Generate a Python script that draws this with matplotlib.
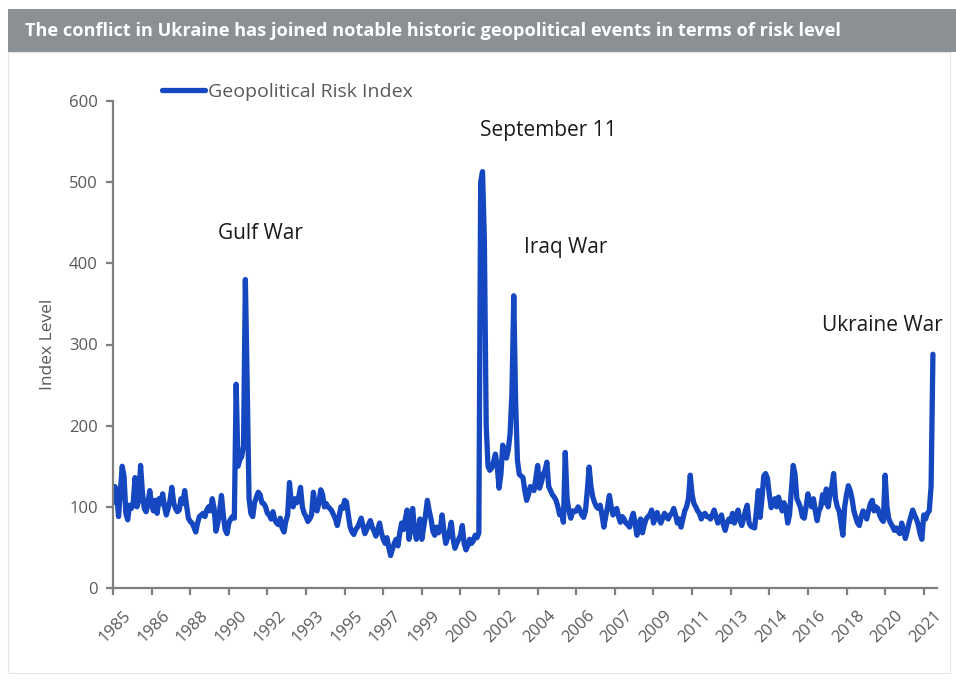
import numpy as np
import matplotlib
matplotlib.use("Agg")
import matplotlib.pyplot as plt
from matplotlib.patches import Rectangle
import matplotlib.transforms as mtransforms

plt.rcParams['font.family'] = ['Open Sans', 'DejaVu Sans']

title = "The conflict in Ukraine has joined notable historic geopolitical events in terms of risk level"
series_name = "Geopolitical Risk Index"
y_label = "Index Level"
start_year = 1985

# Monthly Geopolitical Risk Index, Jan 1985 - Mar 2022
gpr_values = [
    105, 125, 118, 88, 118, 150, 138, 92, 84, 102, 98, 105,      # 1985
    136, 100, 108, 151, 118, 98, 94, 104, 120, 102, 95, 108,     # 1986
    92, 110, 104, 116, 100, 90, 98, 108, 124, 105, 98, 94,       # 1987
    96, 110, 104, 120, 102, 86, 82, 80, 75, 69, 80, 88,          # 1988
    90, 92, 88, 96, 100, 95, 110, 98, 70, 80, 95, 114,           # 1989
    90, 72, 67, 80, 85, 88, 86, 251, 150, 158, 162, 175,         # 1990
    380, 250, 110, 92, 88, 105, 112, 118, 115, 105, 104, 100,    # 1991
    92, 90, 85, 94, 84, 80, 78, 86, 74, 69, 82, 90,              # 1992
    130, 105, 100, 110, 105, 112, 124, 100, 92, 88, 82, 85,      # 1993
    90, 118, 100, 95, 105, 121, 115, 100, 104, 100, 98, 95,      # 1994
    90, 85, 77, 88, 100, 98, 108, 106, 90, 75, 69, 66,           # 1995
    72, 75, 80, 86, 76, 67, 72, 78, 83, 75, 70, 64,              # 1996
    72, 80, 68, 60, 55, 62, 50, 40, 48, 55, 60, 52,              # 1997
    68, 80, 72, 85, 96, 60, 75, 98, 72, 60, 70, 85,              # 1998
    60, 75, 90, 108, 95, 85, 70, 65, 75, 68, 72, 90,             # 1999
    70, 55, 62, 70, 81, 60, 49, 55, 60, 65, 77, 55,              # 2000
    47, 52, 60, 55, 58, 65, 62, 68, 500, 513, 430, 200,          # 2001
    150, 145, 148, 155, 165, 150, 123, 140, 176, 165, 160, 170,  # 2002
    190, 240, 360, 230, 157, 140, 138, 136, 120, 108, 115, 125,  # 2003
    122, 120, 135, 151, 123, 130, 140, 145, 155, 125, 120, 115,  # 2004
    112, 108, 100, 90, 95, 81, 167, 110, 95, 86, 95, 94,         # 2005
    95, 100, 96, 90, 87, 95, 120, 149, 125, 112, 105, 100,       # 2006
    98, 102, 90, 75, 88, 100, 114, 100, 90, 95, 98, 88,          # 2007
    81, 88, 85, 80, 78, 75, 85, 92, 80, 65, 78, 85,              # 2008
    68, 78, 85, 88, 90, 96, 80, 86, 93, 85, 80, 86,              # 2009
    92, 88, 85, 90, 92, 98, 90, 80, 85, 75, 85, 95,              # 2010
    100, 110, 139, 115, 104, 100, 95, 92, 85, 90, 92, 88,        # 2011
    88, 85, 90, 96, 88, 80, 84, 90, 78, 71, 80, 85,              # 2012
    82, 92, 80, 88, 96, 84, 77, 85, 95, 102, 80, 76,             # 2013
    75, 74, 95, 120, 87, 110, 138, 141, 135, 115, 99, 105,       # 2014
    110, 100, 112, 104, 95, 105, 98, 80, 90, 120, 151, 140,      # 2015
    110, 105, 99, 88, 86, 100, 116, 105, 100, 110, 95, 83,       # 2016
    95, 100, 115, 105, 122, 100, 115, 125, 141, 110, 100, 95,    # 2017
    80, 65, 100, 115, 126, 120, 110, 95, 87, 80, 77, 88,         # 2018
    95, 90, 85, 95, 104, 108, 95, 100, 98, 90, 85, 82,           # 2019
    139, 100, 85, 80, 76, 71, 74, 70, 67, 80, 72, 61,            # 2020
    70, 80, 88, 96, 90, 85, 78, 67, 60, 90, 85, 92,              # 2021
    95, 125, 288,                                                # 2022
]

tick_labels = ['1985', '1986', '1988', '1990', '1992', '1993', '1995', '1997',
               '1999', '2000', '2002', '2004', '2006', '2007', '2009', '2011',
               '2013', '2014', '2016', '2018', '2020', '2021']
tick_step_months = 21

events = ["Gulf War", "September 11", "Iraq War", "Ukraine War"]
event_month = [80, 236.6, 246.4, 418.3]
event_level = [437, 564, 419, 323]

months = np.arange(len(gpr_values))

W, H = 956, 679
fig = plt.figure(figsize=(W / 100, H / 100), dpi=100)
fig.patch.set_facecolor('white')

# Title bar
fig.patches.append(Rectangle((8 / W, 1 - 52 / H), (W - 8) / W, 43 / H,
                             transform=fig.transFigure, facecolor='#8b9095',
                             edgecolor='none', zorder=0))
# light frame
fig.patches.append(Rectangle((8 / W, 1 - 673 / H), (W - 14) / W, (673 - 52) / H,
                             transform=fig.transFigure, facecolor='none',
                             edgecolor='#e4e4e4', linewidth=0.8, zorder=0))
fig.text(25 / W, 1 - 31 / H, title, color='white', fontsize=13.1,
         fontweight='bold', va='center', ha='left')

ax_left, ax_bottom = 113 / W, 1 - 588 / H
ax_w, ax_h = (936.6 - 113) / W, (588 - 101) / H
ax = fig.add_axes([ax_left, ax_bottom, ax_w, ax_h])

line_color = '#1447c0'
ax.plot(months, gpr_values, color=line_color, linewidth=3.8,
        solid_joinstyle='round', solid_capstyle='round', label=series_name)

ax.set_xlim(0, 448)
ax.set_ylim(0, 600)
ax.set_yticks(np.arange(0, 601, 100))
ticks = np.arange(0, len(gpr_values), tick_step_months)
ax.set_xticks(ticks)

for s in ['top', 'right']:
    ax.spines[s].set_visible(False)
for s in ['left', 'bottom']:
    ax.spines[s].set_color('#7f7f7f')
    ax.spines[s].set_linewidth(1.6)
ax.tick_params(axis='both', colors='#7f7f7f', labelcolor='#595959',
               labelsize=12, width=1.6, length=5, direction='out')
ax.tick_params(axis='x', pad=9)
ax.tick_params(axis='y', pad=6)

ax.set_xticklabels(tick_labels, rotation=45, ha='right', va='top',
                   rotation_mode='anchor')
shift = mtransforms.ScaledTranslation(10 / 100, 0, fig.dpi_scale_trans)
for lbl in ax.get_xticklabels():
    lbl.set_transform(lbl.get_transform() + shift)

ax.set_ylabel(y_label, color='#595959', fontsize=12.5, labelpad=9)

for name, m, lv in zip(events, event_month, event_level):
    ax.text(m, lv, name, fontsize=15, color='#1a1a1a', ha='center',
            va='center', clip_on=False)

leg = ax.legend(loc='lower left', bbox_to_anchor=(0.05, 0.985), frameon=False,
                fontsize=14, handlelength=2.2, handletextpad=0.15,
                borderaxespad=0)
for t in leg.get_texts():
    t.set_color('#595959')

fig.savefig('out.png', dpi=100, facecolor='white')
